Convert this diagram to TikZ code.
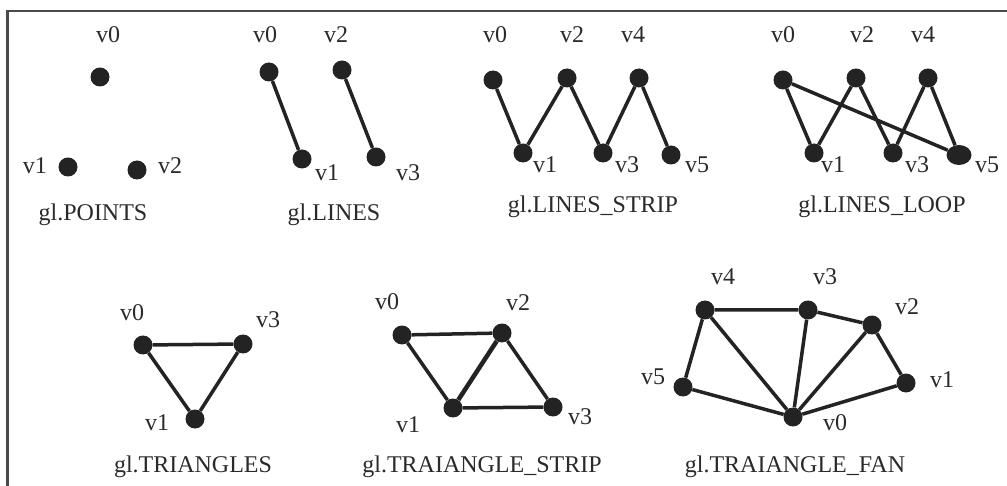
\documentclass[tikz,border=0pt]{standalone}
\usepackage{fontspec}
\setmainfont{Liberation Serif}
\usetikzlibrary{shapes.geometric}
\definecolor{dotc}{HTML}{232323}
\definecolor{txtc}{HTML}{2A2A2A}
\definecolor{framec}{HTML}{4A4A4A}
\begin{document}
\begin{tikzpicture}[x=1pt,y=-1pt,
  pt/.style={circle,fill=dotc,inner sep=0pt,minimum size=19pt},
  lbl/.style={font=\fontsize{24}{28}\selectfont,inner sep=0pt,text=txtc},
  ttl/.style={font=\fontsize{24}{28}\selectfont,inner sep=0pt,text=txtc},
  edge/.style={line width=3.5pt,draw=dotc}]
\fill[white] (0,0) rectangle (1007,486);
\useasboundingbox (0,0) rectangle (1007,486);
\draw[line width=2.2pt,framec] (7.5,486) -- (7.5,11) -- (1007,11);

% gl.POINTS
\node[pt] (p0) at (100,77) {};
\node[pt] (p1) at (68,167) {};
\node[pt] (p2) at (137,170) {};
\node[lbl] (p0l) at (108,35) {v0};
\node[lbl] (p1l) at (35,166) {v1};
\node[lbl] (p2l) at (170,166) {v2};
\node[ttl] (pt) at (93,215) {gl.POINTS};

% gl.LINES
\node[pt] (l0) at (269,72) {};
\node[pt] (l1) at (302,159) {};
\node[pt] (l2) at (342,70) {};
\node[pt] (l3) at (376,157) {};
\draw[edge] (l0) -- (l1);
\draw[edge] (l2) -- (l3);
\node[lbl] (l0l) at (265,35) {v0};
\node[lbl] (l2l) at (336,35) {v2};
\node[lbl] (l1l) at (327,173) {v1};
\node[lbl] (l3l) at (408,173) {v3};
\node[ttl] (lt) at (334,215) {gl.LINES};

% gl.LINES_STRIP
\node[pt] (s0) at (493,80) {};
\node[pt] (s1) at (523,153) {};
\node[pt] (s2) at (567,78) {};
\node[pt] (s3) at (603,153) {};
\node[pt] (s4) at (639,78) {};
\node[pt] (s5) at (671,155) {};
\draw[edge] (s0) -- (s1) -- (s2) -- (s3) -- (s4) -- (s5);
\node[lbl] (s0l) at (495,35) {v0};
\node[lbl] (s2l) at (572,35) {v2};
\node[lbl] (s4l) at (633,35) {v4};
\node[lbl] (s1l) at (545,165) {v1};
\node[lbl] (s3l) at (627,165) {v3};
\node[lbl] (s5l) at (697,165) {v5};
\node[ttl] (st) at (593,207) {gl.LINES\_STRIP};

% gl.LINES_LOOP
\node[pt] (o0) at (783,80) {};
\node[pt] (o1) at (814,153) {};
\node[pt] (o2) at (856,78) {};
\node[pt] (o3) at (893,153) {};
\node[pt] (o4) at (928,78) {};
\node[ellipse,fill=dotc,inner sep=0pt,minimum width=25pt,minimum height=20pt] (o5) at (959,155) {};
\draw[edge] (o0) -- (o1) -- (o2) -- (o3) -- (o4) -- (o5) -- (o0);
\node[lbl] (o0l) at (783,35) {v0};
\node[lbl] (o2l) at (862,35) {v2};
\node[lbl] (o4l) at (923,35) {v4};
\node[lbl] (o1l) at (833,165) {v1};
\node[lbl] (o3l) at (917,165) {v3};
\node[lbl] (o5l) at (987,165) {v5};
\node[ttl] (ot) at (882,207) {gl.LINES\_LOOP};

% gl.TRIANGLES
\node[pt] (t0) at (143,345) {};
\node[pt] (t1) at (195,419) {};
\node[pt] (t3) at (243,344) {};
\draw[edge] (t0) -- (t3) -- (t1) -- (t0);
\node[lbl] (t0l) at (132,313) {v0};
\node[lbl] (t3l) at (268,320) {v3};
\node[lbl] (t1l) at (157,423) {v1};
\node[ttl] (tt) at (193,467) {gl.TRIANGLES};

% gl.TRAIANGLE_STRIP
\node[pt] (r0) at (402,335) {};
\node[pt] (r1) at (453,408) {};
\node[pt] (r2) at (502,333) {};
\node[pt] (r3) at (553,407) {};
\draw[edge] (r0) -- (r2) -- (r3) -- (r1) -- (r0);
\draw[edge,line width=4.5pt] (r1) -- (r2);
\node[lbl] (r0l) at (387,302) {v0};
\node[lbl] (r2l) at (518,303) {v2};
\node[lbl] (r1l) at (408,425) {v1};
\node[lbl] (r3l) at (580,417) {v3};
\node[ttl] (rt) at (482,467) {gl.TRAIANGLE\_STRIP};

% gl.TRAIANGLE_FAN
\node[pt] (f0) at (793,417) {};
\node[pt] (f1) at (906,383) {};
\node[pt] (f2) at (872,325) {};
\node[pt] (f3) at (808,310) {};
\node[pt] (f4) at (705,310) {};
\node[pt] (f5) at (683,387) {};
\draw[edge] (f0) -- (f1) -- (f2) -- (f3) -- (f4) -- (f5) -- (f0);
\draw[edge] (f0) -- (f2);
\draw[edge] (f0) -- (f3);
\draw[edge] (f0) -- (f4);
\node[lbl] (f4l) at (723,277) {v4};
\node[lbl] (f3l) at (825,277) {v3};
\node[lbl] (f2l) at (907,307) {v2};
\node[lbl] (f1l) at (942,380) {v1};
\node[lbl] (f0l) at (835,423) {v0};
\node[lbl] (f5l) at (653,377) {v5};
\node[ttl] (ft) at (795,467) {gl.TRAIANGLE\_FAN};
\end{tikzpicture}
\end{document}
